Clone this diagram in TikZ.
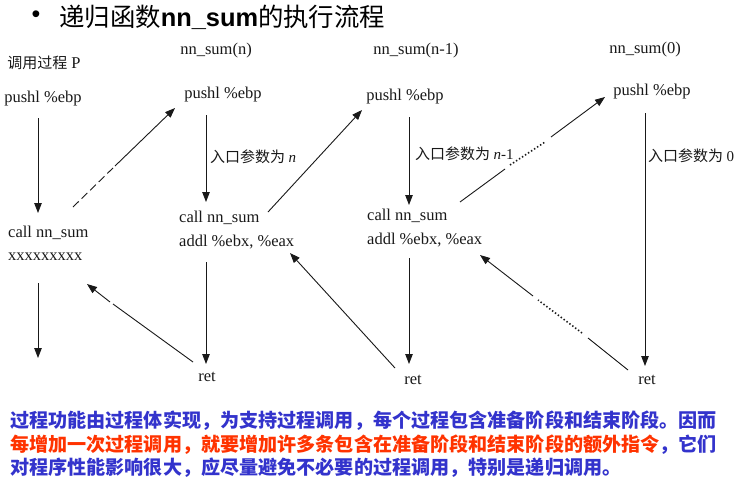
\documentclass[tikz,border=0pt]{standalone}
\usepackage{fontspec}
\setmainfont{Liberation Serif}
\newfontfamily\cjk{Noto Sans CJK SC}
\newfontfamily\arialf{Liberation Sans}
\usetikzlibrary{arrows.meta,calc}
\definecolor{tblue}{RGB}{51,51,204}
\definecolor{tred}{RGB}{255,51,0}
\definecolor{ink}{RGB}{25,25,25}
\begin{document}
\begin{tikzpicture}[x=1pt,y=-1pt,
  code/.style={font=\fontsize{16.5}{18}\selectfont, inner sep=0pt, text=ink},
  lab/.style={font=\fontsize{15}{16}\selectfont\cjk, inner sep=0pt, anchor=west, text=ink},
  arr/.style={-{Triangle[length=10pt,width=7.5pt]}, line width=0.9pt, draw=ink},
  ln/.style={line width=0.9pt, draw=ink},
  dotl/.style={line width=1.6pt, dash pattern=on 1.4pt off 2.2pt, draw=ink},
  dashl/.style={line width=0.9pt, dash pattern=on 8pt off 4pt, draw=ink},
  body/.style={font=\fontsize{19.1}{21}\selectfont\cjk\bfseries, inner sep=0pt, anchor=west},
]
\useasboundingbox[fill=white] (0,0) rectangle (738,482);

% title
\node[font=\fontsize{25}{28}\selectfont\arialf, inner sep=0pt] (bul) at (36,17) {•};
\node[anchor=west, inner sep=0pt, font=\fontsize{25.4}{28}\selectfont\cjk] (title) at (59,17) {递归函数{\arialf\bfseries nn\_sum}的执行流程};

% headers
\node[code] (hP) at (44,63) {{\cjk\fontsize{15}{16}\selectfont 调用过程} P};
\node[code] (hN) at (216,51) {nn\_sum(n)};
\node[code] (hN1) at (416,51) {nn\_sum(n-1)};
\node[code] (hN0) at (645,50) {nn\_sum(0)};

% push
\node[code] (pP) at (43,99) {pushl \%ebp};
\node[code] (pN) at (223,95) {pushl \%ebp};
\node[code] (pN1) at (405,97) {pushl \%ebp};
\node[code] (pN0) at (652,92) {pushl \%ebp};

% labels
\node[lab] (lN) at (210,157) {入口参数为 {\rmfamily\itshape n}};
\node[lab] (lN1) at (415,154) {入口参数为 {\rmfamily\itshape n}{\rmfamily -1}};
\node[lab] (lN0) at (648,156) {入口参数为 {\rmfamily 0}};

% calls
\node[code, anchor=west] (cP) at (8,233) {call nn\_sum};
\node[code, anchor=west] (xP) at (8,257) {xxxxxxxxx};
\node[code, anchor=west] (cN) at (179,218) {call nn\_sum};
\node[code, anchor=west] (aN) at (179,242) {addl \%ebx, \%eax};
\node[code, anchor=west] (cN1) at (367,216) {call nn\_sum};
\node[code, anchor=west] (aN1) at (367,240) {addl \%ebx, \%eax};

% rets
\node[code] (rN) at (207,377) {ret};
\node[code] (rN1) at (413,380) {ret};
\node[code] (rN0) at (647,380) {ret};

% connector end points
\coordinate (vP1s) at (38,118);  \coordinate (vP1e) at (38,213);
\coordinate (vP2s) at (38,283);  \coordinate (vP2e) at (38,358);
\coordinate (vN1s) at (206,115); \coordinate (vN1e) at (206,202);
\coordinate (vN2s) at (206,262); \coordinate (vN2e) at (206,364);
\coordinate (vM1s) at (409,117); \coordinate (vM1e) at (409,205);
\coordinate (vM2s) at (409,258); \coordinate (vM2e) at (409,364);
\coordinate (vZs) at (645,113);  \coordinate (vZe) at (645,366);

\draw[arr] (vP1s) -- (vP1e);
\draw[arr] (vP2s) -- (vP2e);
\draw[arr] (vN1s) -- (vN1e);
\draw[arr] (vN2s) -- (vN2e);
\draw[arr] (vM1s) -- (vM1e);
\draw[arr] (vM2s) -- (vM2e);
\draw[arr] (vZs) -- (vZe);

% call -> push diagonals
\coordinate (d1s) at (73,207); \coordinate (d1m) at (115,166); \coordinate (d1e) at (175,108);
\draw[dashl] (d1s) -- (d1m);
\draw[arr] (d1m) -- (d1e);

\coordinate (d2s) at (268,212); \coordinate (d2e) at (362,110);
\draw[arr] (d2s) -- (d2e);

\coordinate (d3s) at (460,202); \coordinate (d3a) at (505,169);
\coordinate (d3b) at (510,165); \coordinate (d3c) at (545,142);
\coordinate (d3d) at (551,137); \coordinate (d3e) at (605,97);
\draw[ln] (d3s) -- (d3a);
\draw[dotl] (d3b) -- (d3c);
\draw[arr] (d3d) -- (d3e);

% ret -> back diagonals
\coordinate (r0s) at (628,370); \coordinate (r0a) at (588,338);
\coordinate (r0b) at (582,333); \coordinate (r0c) at (538,300);
\coordinate (r0d) at (533,296); \coordinate (r0e) at (480,255);
\draw[ln] (r0s) -- (r0a);
\draw[dotl] (r0b) -- (r0c);
\draw[arr] (r0d) -- (r0e);

\coordinate (r1s) at (395,368); \coordinate (r1e) at (290,253);
\draw[arr] (r1s) -- (r1e);

\coordinate (r2s) at (193,362); \coordinate (r2a) at (113,304);
\coordinate (r2b) at (110,302); \coordinate (r2e) at (87,284);
\draw[ln] (r2s) -- (r2a);
\draw[arr] (r2b) -- (r2e);

% body text
\node[body, text=tblue] (t1) at (10,421) {过程功能由过程体实现，为支持过程调用，每个过程包含准备阶段和结束阶段。因而};
\node[body] (t2) at (10,445) {\textcolor{tred}{每增加一次过程调用，就要增加许多条包含在准备阶段和结束阶段的额外指令}\textcolor{tblue}{，它们}};
\node[body, text=tblue] (t3) at (10,468) {对程序性能影响很大，应尽量避免不必要的过程调用，特别是递归调用。};
\end{tikzpicture}
\end{document}
